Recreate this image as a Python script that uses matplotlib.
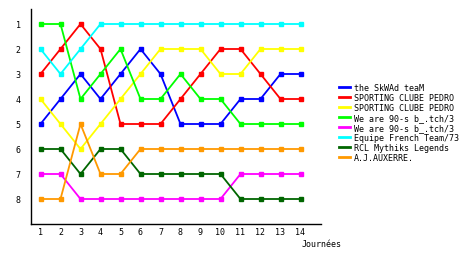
import matplotlib
matplotlib.use("Agg")
import matplotlib.pyplot as plt

journees = list(range(1, 15))
teams = ["the SkWAd teaM", "SPORTING CLUBE PEDRO", "SPORTING CLUBE PEDRO",
         "We are 90-s b_.tch/3", "We are 90-s b_.tch/3", "Equipe French Team/73",
         "RCL Mythiks Legends", "A.J.AUXERRE."]
colors = ["#0000ff", "#ff0000", "#ffff00", "#00ff00", "#ff00ff", "#00ffff",
          "#006600", "#ff9900"]
skwad = [5, 4, 3, 4, 3, 2, 3, 5, 5, 5, 4, 4, 3, 3]
sporting1 = [3, 2, 1, 2, 5, 5, 5, 4, 3, 2, 2, 3, 4, 4]
sporting2 = [4, 5, 6, 5, 4, 3, 2, 2, 2, 3, 3, 2, 2, 2]
we90a = [1, 1, 4, 3, 2, 4, 4, 3, 4, 4, 5, 5, 5, 5]
we90b = [7, 7, 8, 8, 8, 8, 8, 8, 8, 8, 7, 7, 7, 7]
equipe = [2, 3, 2, 1, 1, 1, 1, 1, 1, 1, 1, 1, 1, 1]
rcl = [6, 6, 7, 6, 6, 7, 7, 7, 7, 7, 8, 8, 8, 8]
auxerre = [8, 8, 5, 7, 7, 6, 6, 6, 6, 6, 6, 6, 6, 6]
series = [skwad, sporting1, sporting2, we90a, we90b, equipe, rcl, auxerre]
yticks = [1, 2, 3, 4, 5, 6, 7, 8]

font = "DejaVu Sans Mono"
fig = plt.figure(figsize=(4.6, 2.55), dpi=100)
ax = fig.add_axes([30.5 / 460, 1 - 225 / 255, 290 / 460, 215 / 255])
for vals, c, name in zip(series, colors, teams):
    ax.plot(journees, vals, color=c, lw=1.3, marker="s", ms=2.3, label=name)

ax.set_xlim(0.5, 15)
ax.set_ylim(9, 0.4)
ax.set_xticks(journees)
ax.set_yticks(yticks)
ax.tick_params(length=0, labelsize=6, pad=2)
for lbl in ax.get_xticklabels() + ax.get_yticklabels():
    lbl.set_family(font)
ax.tick_params(axis="y", pad=7)
for s in ["top", "right"]:
    ax.spines[s].set_visible(False)
for s in ["left", "bottom"]:
    ax.spines[s].set_linewidth(1.0)
ax.set_xlabel("Journées", fontsize=6, family=font)
ax.xaxis.set_label_coords(1.003, -0.072)
ax.xaxis.label.set_ha("center")

leg = fig.legend(loc="upper left", bbox_to_anchor=(339 / 460, 1 - 84 / 255),
                 frameon=False, prop={"family": font, "size": 6},
                 handlelength=1.3, handletextpad=0.45, labelspacing=0.12,
                 borderpad=0, borderaxespad=0)
for h in leg.legend_handles:
    h.set_marker("")
    h.set_linewidth(2)

fig.savefig("out.png", dpi=100)
